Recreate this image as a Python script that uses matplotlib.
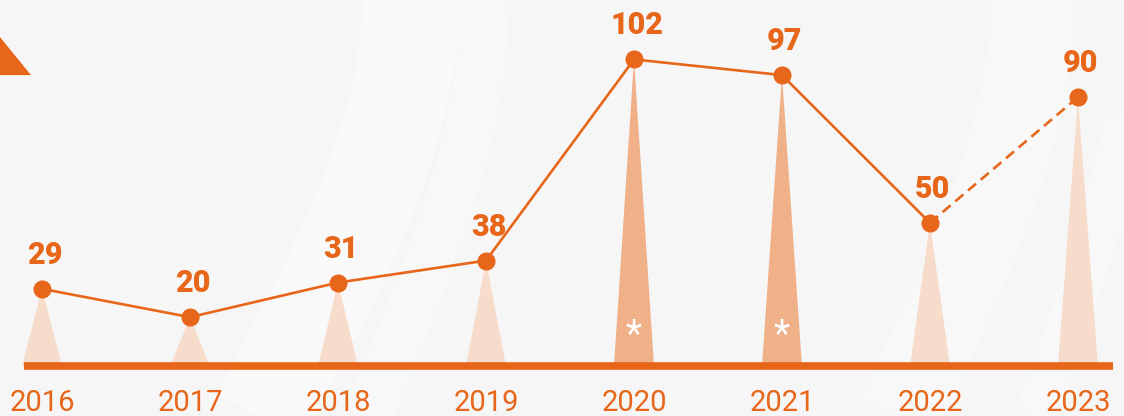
import numpy as np
import matplotlib.pyplot as plt
from matplotlib.patches import Polygon

years = ['2016', '2017', '2018', '2019', '2020', '2021', '2022', '2023']
values = [29, 20, 31, 38, 102, 97, 50, 90]
starred = ['2020', '2021']
n_solid = 7  # 2016-2022 solid, 2022->2023 dashed (estimate)

orange = '#e8661a'
light_tri = '#f7dccb'
dark_tri = '#f0b088'

fig = plt.figure(figsize=(11.24, 4.16), dpi=100)
fig.patch.set_facecolor('#f6f6f6')
ax = fig.add_axes([0, 0, 1, 1])
ax.set_facecolor('#f6f6f6')
ax.set_xlim(-0.284, 7.311)
ax.set_ylim(-11.45, 120.9)
ax.axis('off')

x = np.arange(len(years))
base = 4.45

# soft white swooshes in the background
t = np.linspace(-12, 125, 200)
for x0, bend, w, a in [(1.6, 0.9, 70, 0.35), (2.3, 0.7, 35, 0.3), (5.9, 0.8, 60, 0.3), (6.8, 0.6, 30, 0.3)]:
    ax.plot(x0 + bend * np.sin(t / 80), t, color='white', lw=w, alpha=a, zorder=0,
            solid_capstyle='butt')

# top-left corner triangle
ax.add_patch(Polygon([(-0.284, (380 - 37) / 3.144), (-0.284 + 31 / 148, (380 - 75) / 3.144),
                      (-0.284, (380 - 75) / 3.144)], closed=True, color=orange, lw=0, zorder=2))

# spike triangles
for xi, yr, v in zip(x, years, values):
    c = dark_tri if yr in starred else light_tri
    ax.add_patch(Polygon([(xi - 0.135, base), (xi + 0.135, base), (xi, v)],
                         closed=True, color=c, lw=0, zorder=2))
    if yr in starred:
        ax.text(xi, 14.0, '*', color='white', ha='center', va='center',
                fontsize=27, family='Roboto', zorder=3)

# baseline
ax.plot([-0.12, 7.24], [base, base], color=orange, lw=5.5, solid_capstyle='butt', zorder=4)

# line
ax.plot(x[:n_solid], values[:n_solid], color=orange, lw=1.9, zorder=5)
ax.plot(x[n_solid - 1:], values[n_solid - 1:], color=orange, lw=1.9, ls=(0, (4, 2.3)), zorder=5)
ax.plot(x, values, 'o', color=orange, ms=12, zorder=6)

for xi, v in zip(x, values):
    ax.annotate(str(v), (xi, v), xytext=(2, 18), textcoords='offset points',
                ha='center', va='baseline', color=orange, fontsize=22,
                fontweight='heavy', family='Roboto', zorder=7)

for xi, yr in zip(x, years):
    ax.text(xi, -10.0, yr, ha='center', va='baseline', color=orange, fontsize=21,
            family='Roboto', zorder=7)

fig.savefig('out.png', dpi=100, facecolor=fig.get_facecolor())
